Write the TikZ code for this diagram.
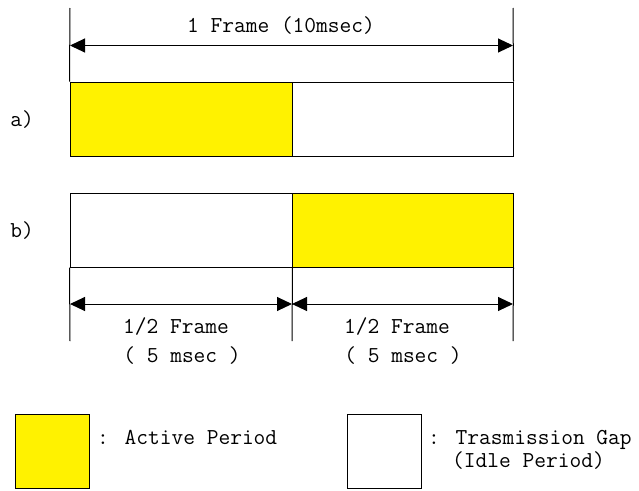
\documentclass[tikz,border=0pt]{standalone}
\usetikzlibrary{arrows.meta}

\begin{document}
\begin{tikzpicture}[x=1pt,y=-1pt,font=\ttfamily\fontsize{22.8}{23}\selectfont]
 \tikzset{dim/.style={{Triangle[length=15pt,width=14pt]}-{Triangle[length=15pt,width=14pt]},line width=1pt},
  slot/.style={draw,line width=1pt,inner sep=0pt,minimum width=#1,minimum height=74pt},
  lbl/.style={anchor=base,inner sep=0pt}}
 \useasboundingbox (0,0) rectangle (639,490);

 % frame a) and b)
 \node[slot=222pt,fill=yellow] (A1) at (181,119) {};
 \node[slot=221pt] (A2) at (402.5,119) {};
 \node[slot=222pt] (B1) at (181,230) {};
 \node[slot=221pt,fill=yellow] (B2) at (402.5,230) {};
 \node[lbl] (la) at (22,126) {a)};
 \node[lbl] (lb) at (22,237) {b)};

 % whole frame
 \coordinate (T1) at (70,8);
 \coordinate (T2) at (513,8);
 \coordinate (F1) at (70,45.5);
 \coordinate (F2) at (513,45.5);
 \draw[line width=1pt] (A1.north west) -- (T1);
 \draw[line width=1pt] (A2.north east) -- (T2);
 \draw[dim] (F1) -- (F2);
 \node[lbl] (frame) at (281,32) {1 Frame (10msec)};

 % half frames
 \coordinate (S1) at (70,341);
 \coordinate (S2) at (292,341);
 \coordinate (S3) at (513,341);
 \coordinate (H1) at (70,304);
 \coordinate (H2) at (292,304);
 \coordinate (H3) at (513,304);
 \draw[line width=1pt] (B1.south west) -- (S1);
 \draw[line width=1pt] (B1.south east) -- (S2);
 \draw[line width=1pt] (B2.south east) -- (S3);
 \draw[dim] (H1) -- (H2);
 \draw[dim] (H2) -- (H3);
 \node[lbl] (h1) at (176,333) {1/2 Frame};
 \node[lbl] (m1) at (182,362) {( 5 msec )};
 \node[lbl] (h2) at (397,333) {1/2 Frame};
 \node[lbl] (m2) at (403,362) {( 5 msec )};

 % legend
 \node[slot=74pt,fill=yellow] (key1) at (52,451) {};
 \node[slot=74pt] (key2) at (384,451) {};
 \node[lbl,anchor=base west] (act) at (97,444) {: Active Period};
 \node[lbl,anchor=base west] (gap) at (428,444) {: Trasmission Gap};
 \node[lbl,anchor=base west] (idle) at (452,467) {(Idle Period)};
\end{tikzpicture}
\end{document}
